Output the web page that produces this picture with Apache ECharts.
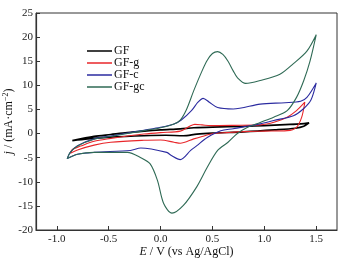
<!DOCTYPE html>
<html>
<head>
<meta charset="utf-8">
<script src="https://cdn.jsdelivr.net/npm/echarts@6/dist/echarts.min.js"></script>
<style>
  html, body { margin: 0; padding: 0; background: #fff; }
  #chart { width: 343px; height: 261px; }
</style>
</head>
<body>
<div id="chart"></div>
<script>
// potential (V) and current density (mA/cm2), each loop: forward scan then return
var gfE = [-0.85, -0.64, -0.48, -0.32, -0.16, 0, 0.19, 0.32, 0.5, 0.8, 1.0, 1.2, 1.35, 1.43,
  1.38, 1.3, 1.1, 0.8, 0.5, 0.35, 0.22, 0.05, -0.16, -0.48, -0.7, -0.85];
var gfJ = [-1.45, -0.6, -0.2, 0.2, 0.5, 0.75, 0.97, 1.2, 1.35, 1.5, 1.65, 1.85, 2.0, 2.2,
  1.5, 1.1, 0.75, 0.35, 0.1, -0.1, -0.45, -0.35, -0.45, -0.75, -1.1, -1.45];

var gfgE = [-0.87, -0.85, -0.77, -0.64, -0.48, -0.32, -0.16, 0, 0.19, 0.28, 0.33, 0.4, 0.48, 0.7, 0.96, 1.1, 1.22, 1.31, 1.39,
  1.36, 1.31, 1.22, 1.0, 0.8, 0.64, 0.51, 0.4, 0.32, 0.19, 0.13, 0, -0.16, -0.48, -0.64, -0.8, -0.87];
var gfgJ = [-4.1, -3.3, -2.6, -1.6, -1.0, -0.5, -0.1, 0.2, 0.5, 1.5, 1.9, 1.8, 1.65, 1.7, 1.8, 2.4, 3.4, 4.75, 6.5,
  3.4, 1.3, 0.6, 0.5, 0.4, 0.2, 0, -0.6, -1.1, -2.0, -1.8, -1.35, -1.4, -1.8, -2.4, -3.4, -4.1];

var gfcE = [-0.9, -0.87, -0.8, -0.64, -0.48, -0.32, -0.16, 0, 0.13, 0.2, 0.3, 0.36, 0.41, 0.47, 0.55, 0.7, 0.96, 1.2, 1.35, 1.41, 1.5,
  1.45, 1.38, 1.28, 1.09, 0.96, 0.83, 0.7, 0.58, 0.45, 0.35, 0.29, 0.19, 0.1, 0.06, -0.19, -0.29, -0.64, -0.8, -0.9];
var gfcJ = [-5.2, -3.9, -2.5, -1.1, -0.5, 0.1, 0.7, 1.3, 2.0, 2.8, 4.8, 6.5, 7.3, 6.5, 5.4, 5.1, 6.1, 6.4, 6.7, 7.5, 10.5,
  7.0, 5.2, 3.7, 2.7, 2.0, 1.5, 1.0, 0.6, -0.8, -2.5, -3.5, -5.4, -4.5, -3.9, -3.0, -3.5, -3.9, -4.3, -5.2];

var gfgcE = [-0.9, -0.87, -0.8, -0.64, -0.48, -0.32, -0.16, 0, 0.13, 0.19, 0.25, 0.32, 0.4, 0.45, 0.5, 0.55, 0.6, 0.65, 0.7, 0.74, 0.82, 0.96, 1.15, 1.28, 1.41, 1.5,
  1.44, 1.38, 1.31, 1.22, 1.09, 0.96, 0.83, 0.74, 0.65, 0.55, 0.45, 0.35, 0.22, 0.11, 0.03, -0.03, -0.1, -0.19, -0.32, -0.64, -0.8, -0.9];
var gfgcJ = [-5.2, -3.9, -2.6, -1.2, -0.6, 0.0, 0.6, 1.2, 2.0, 2.8, 5.0, 8.9, 13.0, 15.2, 16.6, 17.0, 16.4, 15.0, 13.0, 11.6, 10.4, 11.0, 12.3, 14.5, 17.1, 20.5,
  15.0, 11.0, 7.5, 4.75, 3.4, 2.3, 1.2, 0.0, -1.8, -3.5, -7.0, -11.0, -14.9, -16.5, -14.5, -9.7, -6.3, -5.0, -3.9, -3.9, -4.3, -5.2];

var xTicks = [-1.0, -0.5, 0.0, 0.5, 1.0, 1.5];

function pairs(e, j) {
  var arr = [];
  for (let i in e) {
    arr[i] = [e[i], j[i]];
  }
  return arr;
}

var serif = "'Liberation Serif', 'DejaVu Serif', serif";
var axisColor = "#333";

var myChart = echarts.init(document.getElementById("chart"));
var option = {
  animation: false,
  grid: {
    left: 36, top: 13, right: 6, bottom: 31,
    outerBoundsMode: "none",
    containLabel: false,
    show: true, borderColor: axisColor, borderWidth: 1
  },
  legend: {
    orient: "vertical",
    left: 82,
    top: 40,
    icon: "rect",
    itemWidth: 25,
    itemHeight: 1.5,
    itemGap: 0,
    textStyle: { fontFamily: serif, fontSize: 12, lineHeight: 12, color: "#111", padding: [0, 0, 0, -3] },
    data: ["GF", "GF-g", "GF-c", "GF-gc"]
  },
  xAxis: {
    type: "value",
    min: -1.2,
    max: 1.7,
    name: "{i|E} / V (vs Ag/AgCl)",
    nameLocation: "middle",
    nameMoveOverlap: false,
    nameGap: 16,
    nameTextStyle: {
      fontFamily: serif, fontSize: 12, color: "#111",
      rich: { i: { fontFamily: serif, fontSize: 12, fontStyle: "italic", color: "#111" } }
    },
    splitLine: { show: false },
    axisLine: { onZero: false, lineStyle: { color: axisColor, width: 1.2 } },
    axisTick: { inside: true, length: 4, customValues: xTicks, lineStyle: { color: axisColor } },
    axisLabel: {
      customValues: xTicks,
      margin: 4,
      fontFamily: serif, fontSize: 11, color: "#222",
      formatter: function (v) { return v.toFixed(1); }
    }
  },
  yAxis: {
    type: "value",
    min: -20,
    max: 25,
    interval: 5,
    name: "{i|j} / (mA·cm{s|−2})",
    nameLocation: "middle",
    nameMoveOverlap: false,
    nameGap: 20,
    nameTextStyle: {
      fontFamily: serif, fontSize: 12, color: "#111",
      rich: {
        i: { fontFamily: serif, fontSize: 12, fontStyle: "italic", color: "#111" },
        s: { fontFamily: serif, fontSize: 8, color: "#111", verticalAlign: "bottom", padding: [0, 0, 6, 0] }
      }
    },
    splitLine: { show: false },
    axisLine: { onZero: false, lineStyle: { color: axisColor, width: 1.2 } },
    axisTick: { inside: true, length: 4, lineStyle: { color: axisColor } },
    axisLabel: { margin: 3, fontFamily: serif, fontSize: 11, color: "#222" }
  },
  series: [
    { name: "GF", type: "line", smooth: 0.3, symbol: "none", data: pairs(gfE, gfJ),
      lineStyle: { color: "#000", width: 1.7 }, itemStyle: { color: "#000" } },
    { name: "GF-g", type: "line", smooth: 0.3, symbol: "none", data: pairs(gfgE, gfgJ),
      lineStyle: { color: "#e8262a", width: 1.1 }, itemStyle: { color: "#e8262a" } },
    { name: "GF-c", type: "line", smooth: 0.3, symbol: "none", data: pairs(gfcE, gfcJ),
      lineStyle: { color: "#2b2ba0", width: 1.1 }, itemStyle: { color: "#2b2ba0" } },
    { name: "GF-gc", type: "line", smooth: 0.3, symbol: "none", data: pairs(gfgcE, gfgcJ),
      lineStyle: { color: "#2f6a55", width: 1.1 }, itemStyle: { color: "#2f6a55" } }
  ]
};
myChart.setOption(option);
</script>
</body>
</html>
